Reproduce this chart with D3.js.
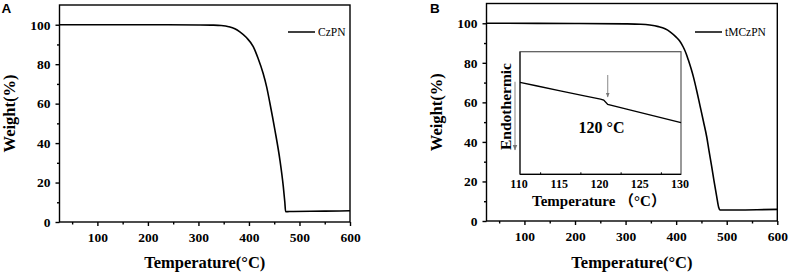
<!DOCTYPE html>
<html><head><meta charset="utf-8">
<script src="https://cdn.jsdelivr.net/npm/d3@7/dist/d3.min.js"></script>
<style>body{margin:0;background:#fff}svg{display:block}</style>
</head><body>
<svg id="c" width="790" height="274"></svg>
<script>
// Data
const xTicks = [100, 200, 300, 400, 500, 600];
const yTicks = [0, 20, 40, 60, 80, 100];
const czpnTemp   = [25, 200, 300, 330, 345, 360, 372, 382, 395, 408.5, 418, 428, 435, 441.5, 451.4, 461.3, 468, 471, 472.6, 480, 550, 600];
const czpnWeight = [100, 100, 99.9, 99.8, 99.6, 99.0, 98.0, 96.4, 93.5, 88.9, 83, 75.4, 68.5, 60.2, 46.6, 31.4, 17.9, 10, 5.2, 5.3, 5.5, 5.7];
const tmczpnTemp   = [25, 200, 300, 330, 348, 365, 378, 388, 400, 407, 414, 420, 424, 434, 441, 447, 454, 460.4, 465, 470.3, 475, 480.2, 484, 486.5, 520, 560, 600];
const tmczpnWeight = [100, 99.9, 99.7, 99.5, 99.1, 98.3, 97.2, 95.7, 93.0, 91.0, 88.0, 84.5, 81.5, 73, 65.5, 58.5, 50.3, 42.6, 35.5, 27.5, 20, 12.3, 7.0, 5.6, 5.6, 5.7, 5.9];
const dscTemp = [110, 112, 115, 118, 120, 120.4, 120.9, 123, 126, 130];
const dscHeat = [0.75, 0.722, 0.68, 0.64, 0.613, 0.606, 0.570, 0.536, 0.487, 0.421];
const insetTicks = [110, 115, 120, 125, 130];
const tgLabel = "120 °C";

const svg = d3.select("#c");
const serif = "'Liberation Serif','Times New Roman',serif";

function panel(opt) {
  const g = svg.append("g");
  const x = d3.scaleLinear().domain([25, 600]).range([opt.left, opt.right]);
  const y = d3.scaleLinear().domain([0, 110]).range([opt.bottom, opt.top]);
  g.append("rect").attr("x", opt.left).attr("y", opt.top)
    .attr("width", opt.right - opt.left).attr("height", opt.bottom - opt.top)
    .attr("fill", "none").attr("stroke", "#000").attr("stroke-width", 1.4);
  const xa = g.append("g").attr("transform", `translate(0,${opt.bottom})`)
    .call(d3.axisBottom(x).tickValues(xTicks).tickSize(4).tickPadding(6).tickFormat(d3.format("d")));
  const xm = g.append("g").attr("transform", `translate(0,${opt.bottom})`)
    .call(d3.axisBottom(x).tickValues([50,150,250,350,450,550]).tickSize(2.5).tickFormat(""));
  const ya = g.append("g").attr("transform", `translate(${opt.left},0)`)
    .call(d3.axisLeft(y).tickValues(yTicks).tickSize(4).tickPadding(5));
  const ym = g.append("g").attr("transform", `translate(${opt.left},0)`)
    .call(d3.axisLeft(y).tickValues([10,30,50,70,90]).tickSize(2.5).tickFormat(""));
  [xa, xm, ya, ym].forEach(a => {
    a.attr("font-family", null);
    a.select(".domain").remove();
    a.selectAll("line").attr("stroke", "#000").attr("stroke-width", 1.4);
    a.selectAll("text").style("font-family", serif).style("font-weight", "bold")
      .style("font-size", "13.5px").attr("fill", "#000");
  });
  const line = d3.line().x((d, i) => x(opt.tx[i])).y((d, i) => y(opt.wy[i])).curve(d3.curveMonotoneX);
  g.append("path").datum(opt.wy).attr("d", line).attr("fill", "none")
    .attr("stroke", "#000").attr("stroke-width", 1.6);
  g.append("line").attr("x1", opt.legX).attr("x2", opt.legX + 27).attr("y1", 32).attr("y2", 32)
    .attr("stroke", "#000").attr("stroke-width", 1.5);
  g.append("text").attr("x", opt.legX + 30).attr("y", 36).text(opt.name)
    .style("font-family", serif).style("font-size", "11.5px").attr("fill", "#000");
  g.append("text").attr("x", (opt.left + opt.right) / 2).attr("y", 267.5)
    .attr("text-anchor", "middle").style("font-family", serif).style("font-weight", "bold")
    .style("font-size", "16.5px").text("Temperature(°C)");
  g.append("text").attr("transform", `translate(${opt.left - 44.5},${(opt.top + opt.bottom) / 2}) rotate(-90)`)
    .attr("text-anchor", "middle").style("font-family", serif).style("font-weight", "bold")
    .style("font-size", "16.5px").text("Weight(%)");
  g.append("text").attr("x", opt.labX).attr("y", opt.labY).text(opt.letter)
    .style("font-family", "'Liberation Sans',Arial,sans-serif").style("font-weight", "bold").style("font-size", "13.5px");
  return {x, y};
}

panel({left: 59.5, right: 350, top: 5, bottom: 222, tx: czpnTemp, wy: czpnWeight,
  name: "CzPN", legX: 288, letter: "A", labX: 1.5, labY: 13.3});
panel({left: 486.5, right: 777.3, top: 3.5, bottom: 221, tx: tmczpnTemp, wy: tmczpnWeight,
  name: "tMCzPN", legX: 695, letter: "B", labX: 430, labY: 12.7});

// Inset
const ix = d3.scaleLinear().domain([110, 130]).range([520, 681]);
const iy = d3.scaleLinear().domain([0, 1]).range([174.3, 51.7]);
const ig = svg.append("g");
ig.append("rect").attr("x", 520).attr("y", 51.7).attr("width", 161).attr("height", 122.6)
  .attr("fill", "#fff").attr("stroke", "#555").attr("stroke-width", 1.2);
ig.append("line").attr("x1", 520).attr("x2", 681).attr("y1", 174.3).attr("y2", 174.3)
  .attr("stroke", "#000").attr("stroke-width", 1.2);
ig.append("line").attr("x1", 520).attr("x2", 520).attr("y1", 51.7).attr("y2", 174.3)
  .attr("stroke", "#222").attr("stroke-width", 1.2);
const ixa = ig.append("g").attr("transform", "translate(0,174.3)")
  .call(d3.axisBottom(ix).tickValues(insetTicks).tickSize(0).tickPadding(5.5));
ixa.attr("font-family", null);
ixa.select(".domain").remove();
ixa.selectAll("text").attr("dx", -1.5).style("font-family", serif).style("font-weight", "bold").style("font-size", "12px").attr("fill", "#000");
ig.append("g").attr("transform", "translate(0,174.3)")
  .call(d3.axisTop(ix).tickValues([112.5, 117.5, 122.5, 127.5]).tickSize(2).tickFormat(""))
  .call(a => { a.select(".domain").remove(); a.selectAll("line").attr("stroke", "#000"); });
const iline = d3.line().x((d, i) => ix(dscTemp[i])).y(d => iy(d));
ig.append("path").datum(dscHeat).attr("d", iline).attr("fill", "none").attr("stroke", "#000").attr("stroke-width", 1.4);
const defs = svg.append("defs");
defs.append("marker").attr("id", "ah").attr("viewBox", "0 0 10 10").attr("refX", 9).attr("refY", 5)
  .attr("markerWidth", 5).attr("markerHeight", 5).attr("orient", "auto")
  .append("path").attr("d", "M0,1 L10,5 L0,9 z").attr("fill", "#777");
ig.append("line").attr("x1", ix(120.9)).attr("x2", ix(120.9)).attr("y1", 75).attr("y2", 97)
  .attr("stroke", "#888").attr("stroke-width", 1).attr("marker-end", "url(#ah)");
ig.append("line").attr("x1", 515).attr("x2", 515).attr("y1", 81.7).attr("y2", 150)
  .attr("stroke", "#999").attr("stroke-width", 1.2).attr("marker-end", "url(#ah)");
ig.append("text").attr("x", 601.5).attr("y", 133).attr("text-anchor", "middle")
  .style("font-family", serif).style("font-weight", "bold").style("font-size", "16px").text(tgLabel);
ig.append("text").attr("x", 599).attr("y", 205.5).attr("text-anchor", "middle")
  .style("font-family", serif + ",'Noto Sans CJK SC'").style("font-weight", "bold").style("font-size", "15px").text("Temperature （°C）");
ig.append("text").attr("transform", "translate(510.5,106.5) rotate(-90)").attr("text-anchor", "middle")
  .style("font-family", serif).style("font-weight", "bold").style("font-size", "15.5px").text("Endothermic");
</script>
</body></html>
